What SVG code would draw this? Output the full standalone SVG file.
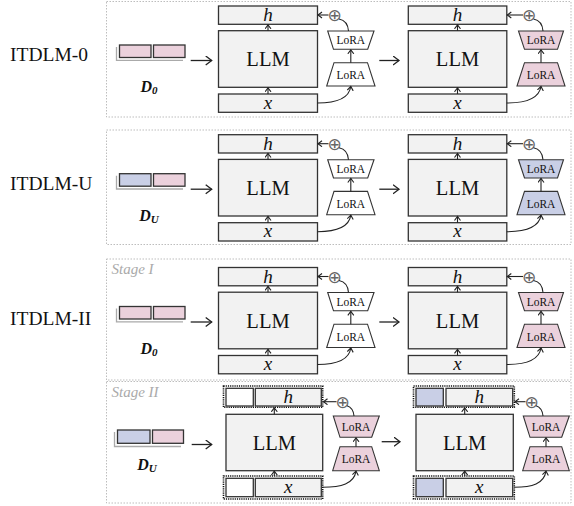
<svg xmlns="http://www.w3.org/2000/svg" width="574" height="506" viewBox="0 0 574 506">
<defs>
<marker id="ah" markerUnits="userSpaceOnUse" markerWidth="8" markerHeight="8" refX="4.5" refY="3.5" orient="auto"><path d="M0.5,0.5 L4.5,3.5 L0.5,6.5" fill="none" stroke="#222" stroke-width="1.1"/></marker>
<marker id="bh" markerUnits="userSpaceOnUse" markerWidth="10" markerHeight="12" refX="6.5" refY="5" orient="auto"><path d="M0.5,0.5 L6.5,5 L0.5,9.5" fill="none" stroke="#222" stroke-width="1.3"/></marker>
<style>
.panel{fill:none;stroke:#bdbdbd;stroke-width:1;stroke-dasharray:1.5 1.5}
.box{fill:#f2f2f2;stroke:#333;stroke-width:1.3}
.wbox{fill:#fff;stroke:#333;stroke-width:1.3}
.bbox{fill:#c9cfe6;stroke:#333;stroke-width:1.3}
.pk{fill:#ebd1dc;stroke:#333;stroke-width:1.3}
.bl{fill:#c9cfe6;stroke:#333;stroke-width:1.3}
.lora{fill:#fff;stroke:#333;stroke-width:1.1}
.lorap{fill:#ebd1dc;stroke:#333;stroke-width:1.1}
.lorab{fill:#c9cfe6;stroke:#333;stroke-width:1.1}
.dash{fill:none;stroke:#111;stroke-width:1.6;stroke-dasharray:1.2 1}
.shadow{fill:none;stroke:#aaa;stroke-width:1.3}
.ln{fill:none;stroke:#222;stroke-width:1.1}
.big{fill:none;stroke:#222;stroke-width:1.3}
.serif{font-family:"Liberation Serif","Times New Roman",serif;fill:#111}
.lab{font-size:19.5px}
.llm{font-size:20.5px;text-anchor:middle}
.var{font-size:19px;font-style:italic;text-anchor:middle}
.lt{font-size:11.5px;text-anchor:middle}
.dl{font-size:16px;font-weight:bold;font-style:italic;text-anchor:middle}
.st{font-size:15px;font-style:italic;fill:#aaa}
.op{font-family:"DejaVu Sans",sans-serif;font-size:17px;fill:#666;text-anchor:middle;dominant-baseline:central}
</style>
</defs>

<g id="labels">
<text class="serif lab" x="10" y="61">ITDLM-0</text>
<text class="serif lab" x="10" y="190">ITDLM-U</text>
<text class="serif lab" x="10" y="325">ITDLM-II</text>
<text class="serif st" x="111.5" y="274">Stage I</text>
<text class="serif st" x="111.5" y="396.5">Stage II</text>
</g>

<g id="panels">
<rect class="panel" x="106.5" y="1.5" width="464.5" height="115.5"/>
<rect class="panel" x="106.5" y="130" width="464.5" height="114.5"/>
<rect class="panel" x="106.5" y="259" width="464.5" height="121"/>
<rect class="panel" x="106.5" y="381.5" width="464.5" height="121.5"/>
</g>

<!-- Panel 1 -->
<g id="p1-data">
<polyline class="shadow" points="116.5,47 116.5,60.3 183,60.3"/>
<rect class="pk" x="119.5" y="45" width="31.5" height="12.5"/>
<rect class="pk" x="153.5" y="45" width="31.5" height="12.5"/>
<text class="serif dl" x="149" y="92">D<tspan font-size="11" dy="2">0</tspan></text>
</g>
<g id="p1-llm1">
<rect class="box" x="218.5" y="6" width="99" height="18.3"/>
<rect class="box" x="218.5" y="30.7" width="99" height="56.6"/>
<rect class="box" x="218.5" y="94" width="99" height="18.3"/>
<text class="serif var" x="268" y="21">h</text>
<text class="serif llm" x="268" y="66">LLM</text>
<text class="serif var" x="268" y="108.5">x</text>
</g>
<g id="p1-lora1">
<text class="op" x="334.5" y="15">⊕</text>
<polygon class="lora" points="327.7,31 374,31 367.7,49.3 333.5,49.3"/>
<text class="serif lt" x="350.8" y="44">LoRA</text>
<polygon class="lora" points="334,62.7 367.5,62.7 375,86 326.7,86"/>
<text class="serif lt" x="350.8" y="79">LoRA</text>
</g>
<g id="p1-llm2">
<rect class="box" x="408.3" y="6" width="98.5" height="18.3"/>
<rect class="box" x="408.3" y="30.7" width="98.5" height="56.6"/>
<rect class="box" x="408.3" y="94" width="98.5" height="18.3"/>
<text class="serif var" x="457.5" y="21">h</text>
<text class="serif llm" x="457.5" y="66">LLM</text>
<text class="serif var" x="457.5" y="108.5">x</text>
</g>
<g id="p1-lora2">
<text class="op" x="529" y="15">⊕</text>
<polygon class="lorap" points="518.5,31 563.5,31 557.5,49.3 524.5,49.3"/>
<text class="serif lt" x="541" y="44">LoRA</text>
<polygon class="lorap" points="524.5,62.7 557.5,62.7 565,86 517,86"/>
<text class="serif lt" x="541" y="79">LoRA</text>
</g>

<!-- Panel 2 -->
<g id="p2-data">
<polyline class="shadow" points="116.5,175.7 116.5,189 183,189"/>
<rect class="bl" x="119.5" y="173.7" width="31.5" height="12.5"/>
<rect class="pk" x="153.5" y="173.7" width="31.5" height="12.5"/>
<text class="serif dl" x="149" y="220.7">D<tspan font-size="11" dy="2">U</tspan></text>
</g>
<g id="p2-llm1">
<rect class="box" x="218.5" y="134.7" width="99" height="18.3"/>
<rect class="box" x="218.5" y="159.4" width="99" height="56.6"/>
<rect class="box" x="218.5" y="222.7" width="99" height="18.3"/>
<text class="serif var" x="268" y="149.7">h</text>
<text class="serif llm" x="268" y="194.7">LLM</text>
<text class="serif var" x="268" y="237.2">x</text>
</g>
<g id="p2-lora1">
<text class="op" x="334.5" y="143.7">⊕</text>
<polygon class="lora" points="327.7,159.7 374,159.7 367.7,178 333.5,178"/>
<text class="serif lt" x="350.8" y="172.7">LoRA</text>
<polygon class="lora" points="334,191.4 367.5,191.4 375,214.7 326.7,214.7"/>
<text class="serif lt" x="350.8" y="207.7">LoRA</text>
</g>
<g id="p2-llm2">
<rect class="box" x="408.3" y="134.7" width="98.5" height="18.3"/>
<rect class="box" x="408.3" y="159.4" width="98.5" height="56.6"/>
<rect class="box" x="408.3" y="222.7" width="98.5" height="18.3"/>
<text class="serif var" x="457.5" y="149.7">h</text>
<text class="serif llm" x="457.5" y="194.7">LLM</text>
<text class="serif var" x="457.5" y="237.2">x</text>
</g>
<g id="p2-lora2">
<text class="op" x="529" y="143.7">⊕</text>
<polygon class="lorab" points="518.5,159.7 563.5,159.7 557.5,178 524.5,178"/>
<text class="serif lt" x="541" y="172.7">LoRA</text>
<polygon class="lorab" points="524.5,191.4 557.5,191.4 565,214.7 517,214.7"/>
<text class="serif lt" x="541" y="207.7">LoRA</text>
</g>

<!-- Panel 3 -->
<g id="p3-data">
<polyline class="shadow" points="116.5,308.5 116.5,321.8 183,321.8"/>
<rect class="pk" x="119.5" y="306.5" width="31.5" height="12.5"/>
<rect class="pk" x="153.5" y="306.5" width="31.5" height="12.5"/>
<text class="serif dl" x="149" y="353.5">D<tspan font-size="11" dy="2">0</tspan></text>
</g>
<g id="p3-llm1">
<rect class="box" x="218.5" y="267.5" width="99" height="18.3"/>
<rect class="box" x="218.5" y="292.2" width="99" height="56.6"/>
<rect class="box" x="218.5" y="355.5" width="99" height="18.3"/>
<text class="serif var" x="268" y="282.5">h</text>
<text class="serif llm" x="268" y="327.5">LLM</text>
<text class="serif var" x="268" y="370">x</text>
</g>
<g id="p3-lora1">
<text class="op" x="334.5" y="276.5">⊕</text>
<polygon class="lora" points="327.7,292.5 374,292.5 367.7,310.8 333.5,310.8"/>
<text class="serif lt" x="350.8" y="305.5">LoRA</text>
<polygon class="lora" points="334,324.2 367.5,324.2 375,347.5 326.7,347.5"/>
<text class="serif lt" x="350.8" y="340.5">LoRA</text>
</g>
<g id="p3-llm2">
<rect class="box" x="408.3" y="267.5" width="98.5" height="18.3"/>
<rect class="box" x="408.3" y="292.2" width="98.5" height="56.6"/>
<rect class="box" x="408.3" y="355.5" width="98.5" height="18.3"/>
<text class="serif var" x="457.5" y="282.5">h</text>
<text class="serif llm" x="457.5" y="327.5">LLM</text>
<text class="serif var" x="457.5" y="370">x</text>
</g>
<g id="p3-lora2">
<text class="op" x="529" y="276.5">⊕</text>
<polygon class="lorap" points="518.5,292.5 563.5,292.5 557.5,310.8 524.5,310.8"/>
<text class="serif lt" x="541" y="305.5">LoRA</text>
<polygon class="lorap" points="524.5,324.2 557.5,324.2 565,347.5 517,347.5"/>
<text class="serif lt" x="541" y="340.5">LoRA</text>
</g>

<!-- Panel 4 -->
<g id="p4-data">
<polyline class="shadow" points="114.5,432 114.5,446.5 181,446.5"/>
<rect class="bl" x="117.5" y="430" width="32.5" height="13.3"/>
<rect class="pk" x="152.5" y="430" width="31" height="13.3"/>
<text class="serif dl" x="147" y="470">D<tspan font-size="11" dy="2">U</tspan></text>
</g>
<g id="p4-llm1">
<rect class="dash" x="223.5" y="386" width="99.2" height="21.3"/>
<rect class="wbox" x="226" y="388.3" width="27.3" height="17.7"/>
<rect class="box" x="255.3" y="388.3" width="66" height="17.7"/>
<rect class="box" x="226" y="414.3" width="96.7" height="56.4"/>
<rect class="dash" x="223.5" y="476" width="99.2" height="23"/>
<rect class="wbox" x="226" y="478.3" width="27.3" height="18.4"/>
<rect class="box" x="255.3" y="478.3" width="66" height="18.4"/>
<text class="serif var" x="288.3" y="402.5">h</text>
<text class="serif llm" x="274.3" y="449.5">LLM</text>
<text class="serif var" x="288.3" y="493">x</text>
</g>
<g id="p4-lora1">
<text class="op" x="342.7" y="401.7">⊕</text>
<polygon class="lorap" points="333.3,416 379.3,416 371.7,437.3 340,437.3"/>
<text class="serif lt" x="356" y="431">LoRA</text>
<polygon class="lorap" points="340,446.7 371.7,446.7 379.3,470.7 332.7,470.7"/>
<text class="serif lt" x="356" y="463">LoRA</text>
</g>
<g id="p4-llm2">
<rect class="dash" x="413.5" y="386" width="100.8" height="21.3"/>
<rect class="bbox" x="416" y="388.3" width="27.3" height="17.7"/>
<rect class="box" x="446" y="388.3" width="66.7" height="17.7"/>
<rect class="box" x="416" y="414.3" width="97.3" height="56.4"/>
<rect class="dash" x="413.5" y="476" width="100.8" height="23"/>
<rect class="bbox" x="416" y="478.3" width="27.3" height="18.4"/>
<rect class="box" x="446" y="478.3" width="66.7" height="18.4"/>
<text class="serif var" x="479.3" y="402.5">h</text>
<text class="serif llm" x="464.7" y="449.5">LLM</text>
<text class="serif var" x="479.3" y="493">x</text>
</g>
<g id="p4-lora2">
<text class="op" x="531.7" y="401.7">⊕</text>
<polygon class="lorap" points="523.3,416 569.3,416 561.7,437.3 530,437.3"/>
<text class="serif lt" x="546" y="431">LoRA</text>
<polygon class="lorap" points="530,446.7 561.7,446.7 569.3,470.7 522.7,470.7"/>
<text class="serif lt" x="546" y="463">LoRA</text>
</g>

<g id="connectors">
<!-- panel 1 -->
<line class="big" x1="190.7" y1="60.5" x2="211.7" y2="60.5" marker-end="url(#bh)"/>
<line class="big" x1="379.3" y1="60.5" x2="399" y2="60.5" marker-end="url(#bh)"/>
<line class="ln" x1="268" y1="30.7" x2="268" y2="24.8" marker-end="url(#ah)"/>
<line class="ln" x1="268" y1="94" x2="268" y2="87.8" marker-end="url(#ah)"/>
<line class="ln" x1="457.5" y1="30.7" x2="457.5" y2="24.8" marker-end="url(#ah)"/>
<line class="ln" x1="457.5" y1="94" x2="457.5" y2="87.8" marker-end="url(#ah)"/>
<line class="ln" x1="328.5" y1="15" x2="318" y2="15" marker-end="url(#ah)"/>
<line class="ln" x1="523" y1="15" x2="507.3" y2="15" marker-end="url(#ah)"/>
<path class="ln" d="M339,19 C344,20 348,24 348.5,31"/>
<path class="ln" d="M533.5,19 C538.5,20 542.5,24 543,31"/>
<line class="ln" x1="350.8" y1="62.7" x2="350.8" y2="49.8" marker-end="url(#ah)"/>
<line class="ln" x1="541" y1="62.7" x2="541" y2="49.8" marker-end="url(#ah)"/>
<path class="ln" d="M317.5,103 C336,103 349,99 350.8,86.5" marker-end="url(#ah)"/>
<path class="ln" d="M506.8,103 C526,103 539,99 541,86.5" marker-end="url(#ah)"/>
<!-- panel 2 -->
<line class="big" x1="190.7" y1="189.2" x2="211.7" y2="189.2" marker-end="url(#bh)"/>
<line class="big" x1="379.3" y1="189.2" x2="399" y2="189.2" marker-end="url(#bh)"/>
<line class="ln" x1="268" y1="159.4" x2="268" y2="153.5" marker-end="url(#ah)"/>
<line class="ln" x1="268" y1="222.7" x2="268" y2="216.5" marker-end="url(#ah)"/>
<line class="ln" x1="457.5" y1="159.4" x2="457.5" y2="153.5" marker-end="url(#ah)"/>
<line class="ln" x1="457.5" y1="222.7" x2="457.5" y2="216.5" marker-end="url(#ah)"/>
<line class="ln" x1="328.5" y1="143.7" x2="318" y2="143.7" marker-end="url(#ah)"/>
<line class="ln" x1="523" y1="143.7" x2="507.3" y2="143.7" marker-end="url(#ah)"/>
<path class="ln" d="M339,147.7 C344,148.7 348,152.7 348.5,159.7"/>
<path class="ln" d="M533.5,147.7 C538.5,148.7 542.5,152.7 543,159.7"/>
<line class="ln" x1="350.8" y1="191.4" x2="350.8" y2="178.5" marker-end="url(#ah)"/>
<line class="ln" x1="541" y1="191.4" x2="541" y2="178.5" marker-end="url(#ah)"/>
<path class="ln" d="M317.5,231.7 C336,231.7 349,227.7 350.8,215.2" marker-end="url(#ah)"/>
<path class="ln" d="M506.8,231.7 C526,231.7 539,227.7 541,215.2" marker-end="url(#ah)"/>
<!-- panel 3 -->
<line class="big" x1="190.7" y1="322" x2="211.7" y2="322" marker-end="url(#bh)"/>
<line class="big" x1="379.3" y1="322" x2="399" y2="322" marker-end="url(#bh)"/>
<line class="ln" x1="268" y1="292.2" x2="268" y2="286.3" marker-end="url(#ah)"/>
<line class="ln" x1="268" y1="355.5" x2="268" y2="349.3" marker-end="url(#ah)"/>
<line class="ln" x1="457.5" y1="292.2" x2="457.5" y2="286.3" marker-end="url(#ah)"/>
<line class="ln" x1="457.5" y1="355.5" x2="457.5" y2="349.3" marker-end="url(#ah)"/>
<line class="ln" x1="328.5" y1="276.5" x2="318" y2="276.5" marker-end="url(#ah)"/>
<line class="ln" x1="523" y1="276.5" x2="507.3" y2="276.5" marker-end="url(#ah)"/>
<path class="ln" d="M339,280.5 C344,281.5 348,285.5 348.5,292.5"/>
<path class="ln" d="M533.5,280.5 C538.5,281.5 542.5,285.5 543,292.5"/>
<line class="ln" x1="350.8" y1="324.2" x2="350.8" y2="311.3" marker-end="url(#ah)"/>
<line class="ln" x1="541" y1="324.2" x2="541" y2="311.3" marker-end="url(#ah)"/>
<path class="ln" d="M317.5,364.5 C336,364.5 349,360.5 350.8,348" marker-end="url(#ah)"/>
<path class="ln" d="M506.8,364.5 C526,364.5 539,360.5 541,348" marker-end="url(#ah)"/>
<!-- panel 4 -->
<line class="big" x1="191.7" y1="444.5" x2="211.7" y2="444.5" marker-end="url(#bh)"/>
<line class="big" x1="381.7" y1="441.7" x2="400" y2="441.7" marker-end="url(#bh)"/>
<line class="ln" x1="274.3" y1="414.3" x2="274.3" y2="407.8" marker-end="url(#ah)"/>
<line class="ln" x1="274.3" y1="476" x2="274.3" y2="471.2" marker-end="url(#ah)"/>
<line class="ln" x1="464.7" y1="414.3" x2="464.7" y2="407.8" marker-end="url(#ah)"/>
<line class="ln" x1="464.7" y1="476" x2="464.7" y2="471.2" marker-end="url(#ah)"/>
<line class="ln" x1="336.5" y1="401.7" x2="323.5" y2="401.7" marker-end="url(#ah)"/>
<line class="ln" x1="525.5" y1="401.7" x2="515" y2="401.7" marker-end="url(#ah)"/>
<path class="ln" d="M347,405.7 C351,407 353.5,410 354,416"/>
<path class="ln" d="M536,405.7 C540,407 542.5,410 543,416"/>
<line class="ln" x1="356" y1="446.7" x2="356" y2="437.8" marker-end="url(#ah)"/>
<line class="ln" x1="546" y1="446.7" x2="546" y2="437.8" marker-end="url(#ah)"/>
<path class="ln" d="M322.7,487.3 C341,487.3 354,484 356,471.2" marker-end="url(#ah)"/>
<path class="ln" d="M514.3,487.3 C532,487.3 544,484 546,471.2" marker-end="url(#ah)"/>
</g>
</svg>
